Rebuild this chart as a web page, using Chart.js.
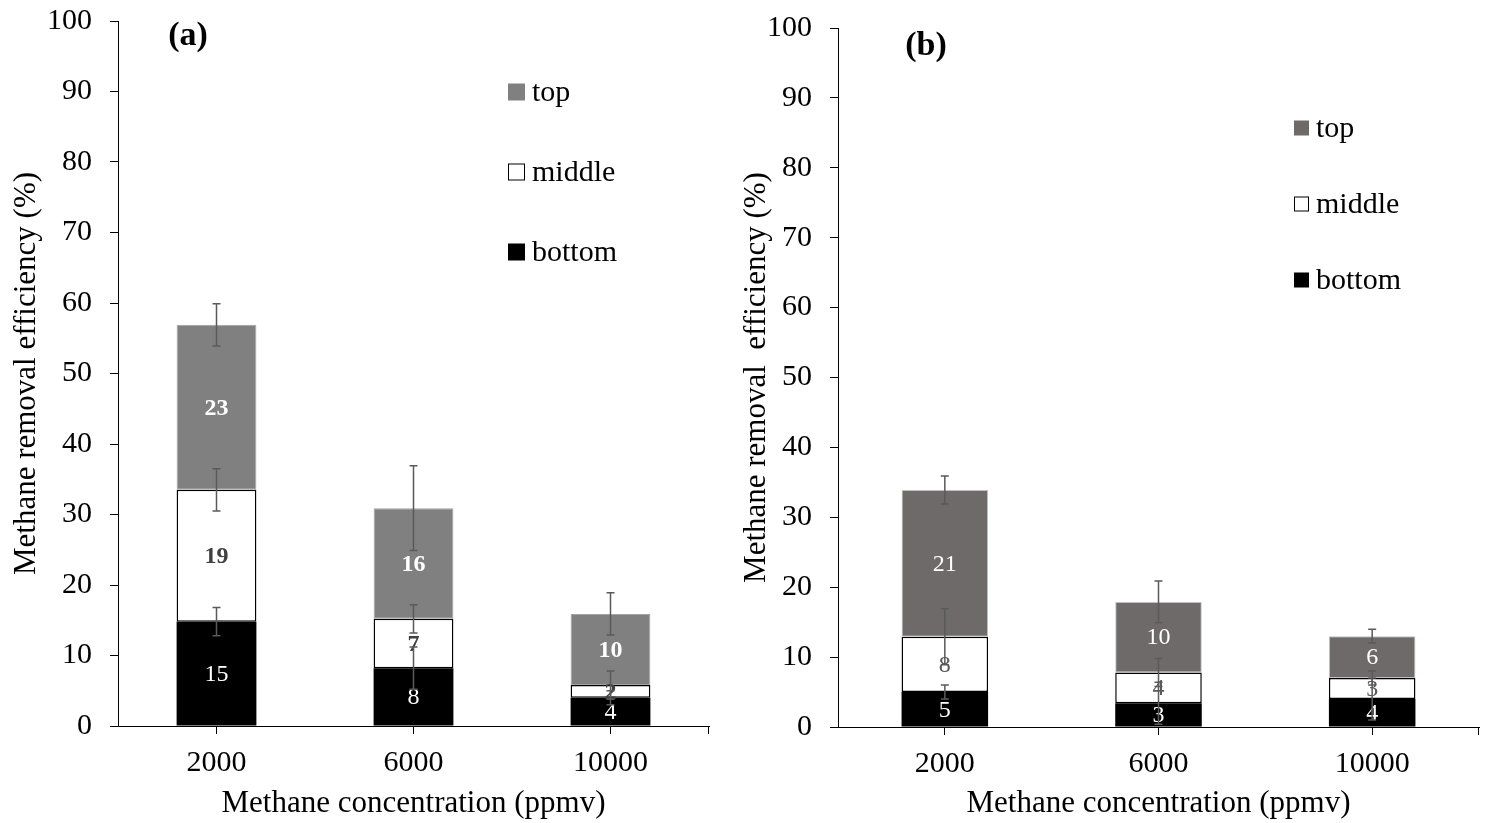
<!DOCTYPE html>
<html>
<head>
<meta charset="utf-8">
<script src="https://cdn.jsdelivr.net/npm/chart.js@4"></script>
<style>
  body { margin: 0; background: #fff; }
  #wrap { position: relative; width: 1486px; height: 823px; }
  canvas { position: absolute; top: 0; }
  #chart-a { left: 0; }
  #chart-b { left: 740px; }
</style>
</head>
<body>
<div id="wrap">
  <canvas id="chart-a" width="740" height="823"></canvas>
  <canvas id="chart-b" width="746" height="823"></canvas>
</div>
<script>
// kategori sumbu x
const categories = ["2000", "6000", "10000"];
const yTickMax = 100;
const yTickStep = 10;

// panel (a)
const bottomA = [14.8, 8.2, 4.0];
const middleA = [18.7, 7.0, 1.8];
const topA = [23.4, 15.7, 10.1];
const bottomErrA = [2, 3, 1];
const middleErrA = [3, 2, 2];
const topErrA = [3, 6, 3];
const bottomLabelsA = ["15", "8", "4"];
const middleLabelsA = ["19", "7", "2"];
const topLabelsA = ["23", "16", "10"];

// panel (b)
const bottomB = [5.0, 3.4, 4.0];
const middleB = [7.9, 4.4, 3.0];
const topB = [21.0, 10.1, 6.0];
const bottomErrB = [1, 3, 3];
const middleErrB = [4, 2, 1];
const topErrB = [2, 3, 1];
const bottomLabelsB = ["5", "3", "4"];
const middleLabelsB = ["8", "4", "3"];
const topLabelsB = ["21", "10", "6"];

const seriesNames = ["bottom", "middle", "top"];
const xTitle = "Methane concentration (ppmv)";
const yTitle = "Methane removal efficiency (%)";

const SERIF = "'Liberation Serif', 'Times New Roman', serif";

// plugin: label segmen, error bar, legenda, label panel
const extrasPlugin = {
  id: "extras",
  afterDatasetsDraw(chart, args, opts) {
    const ctx = chart.ctx;
    const yScale = chart.scales.y;
    const sets = chart.data.datasets;

    // angka di tengah segmen
    sets.forEach((ds, i) => {
      const meta = chart.getDatasetMeta(i);
      meta.data.forEach((bar, j) => {
        ctx.save();
        ctx.font = ds.labelFont;
        ctx.fillStyle = ds.labelColor;
        ctx.textAlign = "center";
        ctx.textBaseline = "middle";
        ctx.fillText(ds.segLabels[j], bar.x, (bar.y + bar.base) / 2 + 1);
        ctx.restore();
      });
    });

    // error bar di atas tiap segmen
    ctx.save();
    ctx.strokeStyle = "#5a5a5a";
    ctx.lineWidth = 1.5;
    sets.forEach((ds, i) => {
      const meta = chart.getDatasetMeta(i);
      meta.data.forEach((bar, j) => {
        let cum = 0;
        for (let k = 0; k <= i; k++) cum += sets[k].data[j];
        const err = ds.errors[j];
        const yHi = yScale.getPixelForValue(cum + err);
        const yLo = yScale.getPixelForValue(Math.max(cum - err, 0));
        ctx.beginPath();
        ctx.moveTo(bar.x, yHi);
        ctx.lineTo(bar.x, yLo);
        ctx.moveTo(bar.x - 4, yHi);
        ctx.lineTo(bar.x + 4, yHi);
        ctx.moveTo(bar.x - 4, yLo);
        ctx.lineTo(bar.x + 4, yLo);
        ctx.stroke();
      });
    });
    ctx.restore();
  },
  afterDraw(chart, args, opts) {
    const ctx = chart.ctx;
    const area = chart.chartArea;

    // tick ujung kanan sumbu x
    ctx.save();
    ctx.strokeStyle = "#000";
    ctx.lineWidth = 1;
    ctx.beginPath();
    ctx.moveTo(area.right - 0.5, area.bottom);
    ctx.lineTo(area.right - 0.5, area.bottom + 8);
    ctx.stroke();
    ctx.restore();

    // legenda (urutan: top, middle, bottom)
    const sets = chart.data.datasets.slice().reverse();
    ctx.save();
    ctx.font = "30px " + SERIF;
    ctx.textBaseline = "middle";
    ctx.textAlign = "left";
    sets.forEach((ds, i) => {
      const cy = opts.legendY + i * opts.legendDy;
      const b = opts.box;
      ctx.fillStyle = ds.backgroundColor;
      ctx.fillRect(opts.legendX, cy - b / 2, b, b);
      if (ds.legendStroke) {
        ctx.strokeStyle = "#000";
        ctx.lineWidth = 1;
        ctx.strokeRect(opts.legendX + 0.5, cy - b / 2 + 0.5, b - 1, b - 1);
      }
      ctx.fillStyle = "#000";
      ctx.fillText(ds.label, opts.legendX + b + 7, cy + 1);
    });
    ctx.restore();

    // label panel (a) / (b)
    ctx.save();
    ctx.font = "bold 34px " + SERIF;
    ctx.fillStyle = "#000";
    ctx.textAlign = "center";
    ctx.textBaseline = "middle";
    ctx.fillText(opts.panel, opts.panelX, opts.panelY);
    ctx.restore();
  },
};

function makeDatasets(values, errors, labels, style) {
  return [0, 1, 2].map((i) => ({
    label: seriesNames[i],
    data: values[i],
    errors: errors[i],
    segLabels: labels[i],
    backgroundColor: style.fill[i],
    borderColor: style.border[i],
    borderWidth: style.borderWidth[i],
    borderSkipped: false,
    labelFont: style.labelFont[i],
    labelColor: style.labelColor[i],
    legendStroke: i === 1,
    barPercentage: 0.405,
    categoryPercentage: 1.0,
  }));
}

function makeChart(canvas, datasets, cfg) {
  return new Chart(canvas, {
    type: "bar",
    data: { labels: categories, datasets: datasets },
    options: {
      responsive: false,
      animation: false,
      devicePixelRatio: 1,
      layout: { padding: { top: cfg.padTop, right: cfg.padRight, left: 0, bottom: 0 } },
      plugins: {
        legend: { display: false },
        tooltip: { enabled: false },
        extras: cfg.extras,
      },
      scales: {
        x: {
          stacked: true,
          grid: {
            offset: false,
            drawOnChartArea: false,
            drawTicks: true,
            tickLength: 8,
            color: "#000",
          },
          border: { display: true, color: "#000", width: 1 },
          ticks: {
            color: "#000",
            padding: 11,
            font: { family: SERIF, size: 30 },
          },
          title: {
            display: true,
            text: xTitle,
            color: "#000",
            font: { family: SERIF, size: 31, lineHeight: 1 },
            padding: { top: 0, bottom: 4 },
          },
          afterFit: (s) => {
            s.height = cfg.xHeight;
            s.paddingLeft = 0;
            s.paddingRight = 0;
          },
        },
        y: {
          stacked: true,
          min: 0,
          max: yTickMax,
          grid: {
            drawOnChartArea: false,
            drawTicks: true,
            tickLength: 8,
            color: "#000",
          },
          border: { display: true, color: "#000", width: 1 },
          ticks: {
            stepSize: yTickStep,
            color: "#000",
            padding: 18,
            font: { family: SERIF, size: 30 },
          },
          title: {
            display: true,
            text: cfg.yTitle,
            color: "#000",
            font: { family: SERIF, size: 31, lineHeight: 1 },
            padding: { top: cfg.yTitlePad, bottom: 0 },
          },
          afterFit: (s) => {
            s.width = cfg.yWidth;
            s.paddingTop = 0;
            s.paddingBottom = 0;
          },
        },
      },
    },
    plugins: [extrasPlugin],
  });
}

const styleA = {
  fill: ["#000000", "#ffffff", "#808080"],
  border: ["#000000", "#000000", "#a3a3a3"],
  borderWidth: [0, 1.5, 1],
  labelFont: ["24px " + SERIF, "bold 24px " + SERIF, "bold 24px " + SERIF],
  labelColor: ["#ffffff", "#404040", "#ffffff"],
};

const styleB = {
  fill: ["#000000", "#ffffff", "#6e6a6a"],
  border: ["#000000", "#000000", "#c0c0c0"],
  borderWidth: [0, 1.5, 1],
  labelFont: ["24px " + SERIF, "24px " + SERIF, "24px " + SERIF],
  labelColor: ["#ffffff", "#5a5a5a", "#ffffff"],
};

makeChart(
  document.querySelector("#chart-a"),
  makeDatasets(
    [bottomA, middleA, topA],
    [bottomErrA, middleErrA, topErrA],
    [bottomLabelsA, middleLabelsA, topLabelsA],
    styleA
  ),
  {
    padTop: 21, padRight: 31, xHeight: 97, yWidth: 118, yTitlePad: 11,
    yTitle: yTitle,
    extras: { legendX: 508, legendY: 92, legendDy: 80, box: 17, panel: "(a)", panelX: 188, panelY: 36 },
  }
);

makeChart(
  document.querySelector("#chart-b"),
  makeDatasets(
    [bottomB, middleB, topB],
    [bottomErrB, middleErrB, topErrB],
    [bottomLabelsB, middleLabelsB, topLabelsB],
    styleB
  ),
  {
    padTop: 28, padRight: 7, xHeight: 96, yWidth: 98, yTitlePad: 1,
    yTitle: "Methane removal  efficiency (%)",
    extras: { legendX: 554, legendY: 128, legendDy: 76, box: 15, panel: "(b)", panelX: 186, panelY: 46 },
  }
);
</script>
</body>
</html>
